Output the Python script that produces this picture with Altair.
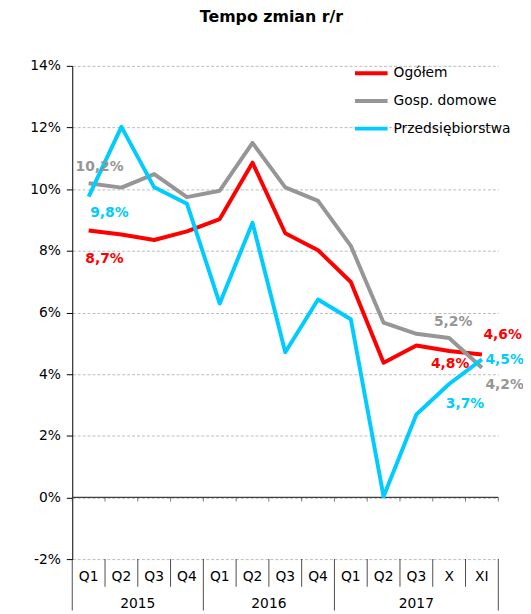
import altair as alt
import pandas as pd

# ---- data ----
categories = ["Q1", "Q2", "Q3", "Q4", "Q1", "Q2", "Q3", "Q4", "Q1", "Q2", "Q3", "X", "XI"]
years = ["2015", "2016", "2017"]
year_spans = [(0, 3), (4, 7), (8, 12)]  # first / last category index of each year

series_names = ["Ogółem", "Gosp. domowe", "Przedsiębiorstwa"]
ogolem = [8.66, 8.53, 8.35, 8.63, 9.03, 10.86, 8.57, 8.02, 6.99, 4.37, 4.93, 4.75, 4.64]
gosp_domowe = [10.19, 10.05, 10.49, 9.74, 9.95, 11.50, 10.06, 9.62, 8.16, 5.67, 5.31, 5.17, 4.21]
przedsiebiorstwa = [9.76, 12.02, 10.06, 9.53, 6.29, 8.91, 4.71, 6.42, 5.78, 0.03, 2.69, 3.68, 4.48]

# value labels: (series, category index, text)
value_labels = [
    ("Gosp. domowe", 0, "10,2%"),
    ("Przedsiębiorstwa", 0, "9,8%"),
    ("Ogółem", 0, "8,7%"),
    ("Gosp. domowe", 11, "5,2%"),
    ("Ogółem", 11, "4,8%"),
    ("Przedsiębiorstwa", 11, "3,7%"),
    ("Ogółem", 12, "4,6%"),
    ("Przedsiębiorstwa", 12, "4,5%"),
    ("Gosp. domowe", 12, "4,2%"),
]

colors = ["#FF0000", "#969696", "#00CCFF"]
FONT = "DejaVu Sans"

# ---- tables ----
series_values = dict(zip(series_names, [ogolem, gosp_domowe, przedsiebiorstwa]))
rows = []
for s in series_names:
    for i, v in enumerate(series_values[s]):
        rows.append({"series": s, "idx": i, "v": v})
lines_df = pd.DataFrame(rows)

X = alt.X("idx:Q", scale=alt.Scale(domain=[-0.5, len(categories) - 0.5], nice=False, zero=False), axis=None)
yaxis = alt.Axis(
    values=list(range(-2, 15, 2)),
    labelExpr="datum.value + '%'",
    title=None,
    labelFont=FONT, labelFontSize=14, labelColor="#000000", labelPadding=6,
    tickSize=6, tickColor="#000000",
    domainColor="#000000",
    grid=True, gridColor="#BBBBBB", gridDash=[3, 2], gridWidth=1,
)
Y = alt.Y("v:Q", scale=alt.Scale(domain=[-2, 14], nice=False, zero=False), axis=yaxis)

color = alt.Color(
    "series:N",
    scale=alt.Scale(domain=series_names, range=colors),
    legend=alt.Legend(
        orient="none", legendX=284, legendY=-11, title=None,
        symbolType="stroke", symbolSize=1089, symbolStrokeWidth=4,
        labelFont=FONT, labelFontSize=14, labelColor="#000000", labelOffset=4,
        rowPadding=1, padding=0,
    ),
)

lines = alt.Chart(lines_df).mark_line(strokeWidth=4, strokeJoin="round").encode(
    x=X, y=Y, color=color, detail="series:N", order="idx:Q"
)

# zero line
zero_df = pd.DataFrame({"idx": [-0.5], "idx2": [len(categories) - 0.5], "v": [0]})
zero_rule = alt.Chart(zero_df).mark_rule(color="#404040", strokeWidth=1.2).encode(
    x=X, x2="idx2:Q", y=Y
)

boundaries = [i - 0.5 for i in range(len(categories) + 1)]
year_bounds = [year_spans[0][0] - 0.5] + [e + 0.5 for (_, e) in year_spans]
cat_bounds = [b for b in boundaries if b not in year_bounds]

zero_ticks = alt.Chart(pd.DataFrame({"idx": boundaries, "v": [0] * len(boundaries)})).mark_tick(
    orient="vertical", size=4, yOffset=2, thickness=1, color="#404040"
).encode(x=X, y=Y)

cat_sep = alt.Chart(pd.DataFrame({"idx": cat_bounds, "v": [-2] * len(cat_bounds)})).mark_tick(
    orient="vertical", size=28, yOffset=14, thickness=1, color="#000000"
).encode(x=X, y=Y)

year_sep = alt.Chart(pd.DataFrame({"idx": year_bounds, "v": [-2] * len(year_bounds)})).mark_tick(
    orient="vertical", size=52, yOffset=26, thickness=1, color="#000000"
).encode(x=X, y=Y)

cat_df = pd.DataFrame({"idx": list(range(len(categories))), "v": [-2] * len(categories), "t": categories})
cat_text = alt.Chart(cat_df).mark_text(
    font=FONT, fontSize=14, color="#000000", dy=18, baseline="middle"
).encode(x=X, y=Y, text="t:N")

year_df = pd.DataFrame({
    "idx": [(a + b) / 2 for (a, b) in year_spans],
    "v": [-2] * len(years),
    "t": years,
})
year_text = alt.Chart(year_df).mark_text(
    font=FONT, fontSize=14, color="#000000", dy=45, baseline="middle"
).encode(x=X, y=Y, text="t:N")

# value labels with individual offsets
offsets = {
    "10,2%": (11, -16), "9,8%": (21, 17), "8,7%": (16, 29),
    "5,2%": (4, -16), "4,8%": (1, 13), "3,7%": (16, 20),
    "4,6%": (21, -20), "4,5%": (23, 1), "4,2%": (23, 18),
}
label_layers = []
for s, i, t in value_labels:
    df = pd.DataFrame({"idx": [i], "v": [series_values[s][i]], "t": [t]})
    dx, dy = offsets[t]
    label_layers.append(
        alt.Chart(df).mark_text(
            font=FONT, fontSize=14, fontWeight="bold",
            color=colors[series_names.index(s)], dx=dx, dy=dy, baseline="middle"
        ).encode(x=X, y=Y, text="t:N")
    )

chart = alt.layer(
    zero_rule, zero_ticks, cat_sep, year_sep, cat_text, year_text, lines, *label_layers
).properties(
    width=431, height=499,
    padding={"left": 65, "top": 55, "right": 25, "bottom": 52},
    autosize=alt.AutoSizeParams(type="none"),
    title=alt.TitleParams(
        "Tempo zmian r/r", font=FONT, fontSize=16, fontWeight="bold", color="#000000",
        anchor="middle", dx=-14, offset=30,
    ),
).configure_view(stroke=None)

chart.save("out.html", embed_options={"renderer": "svg", "actions": False})
